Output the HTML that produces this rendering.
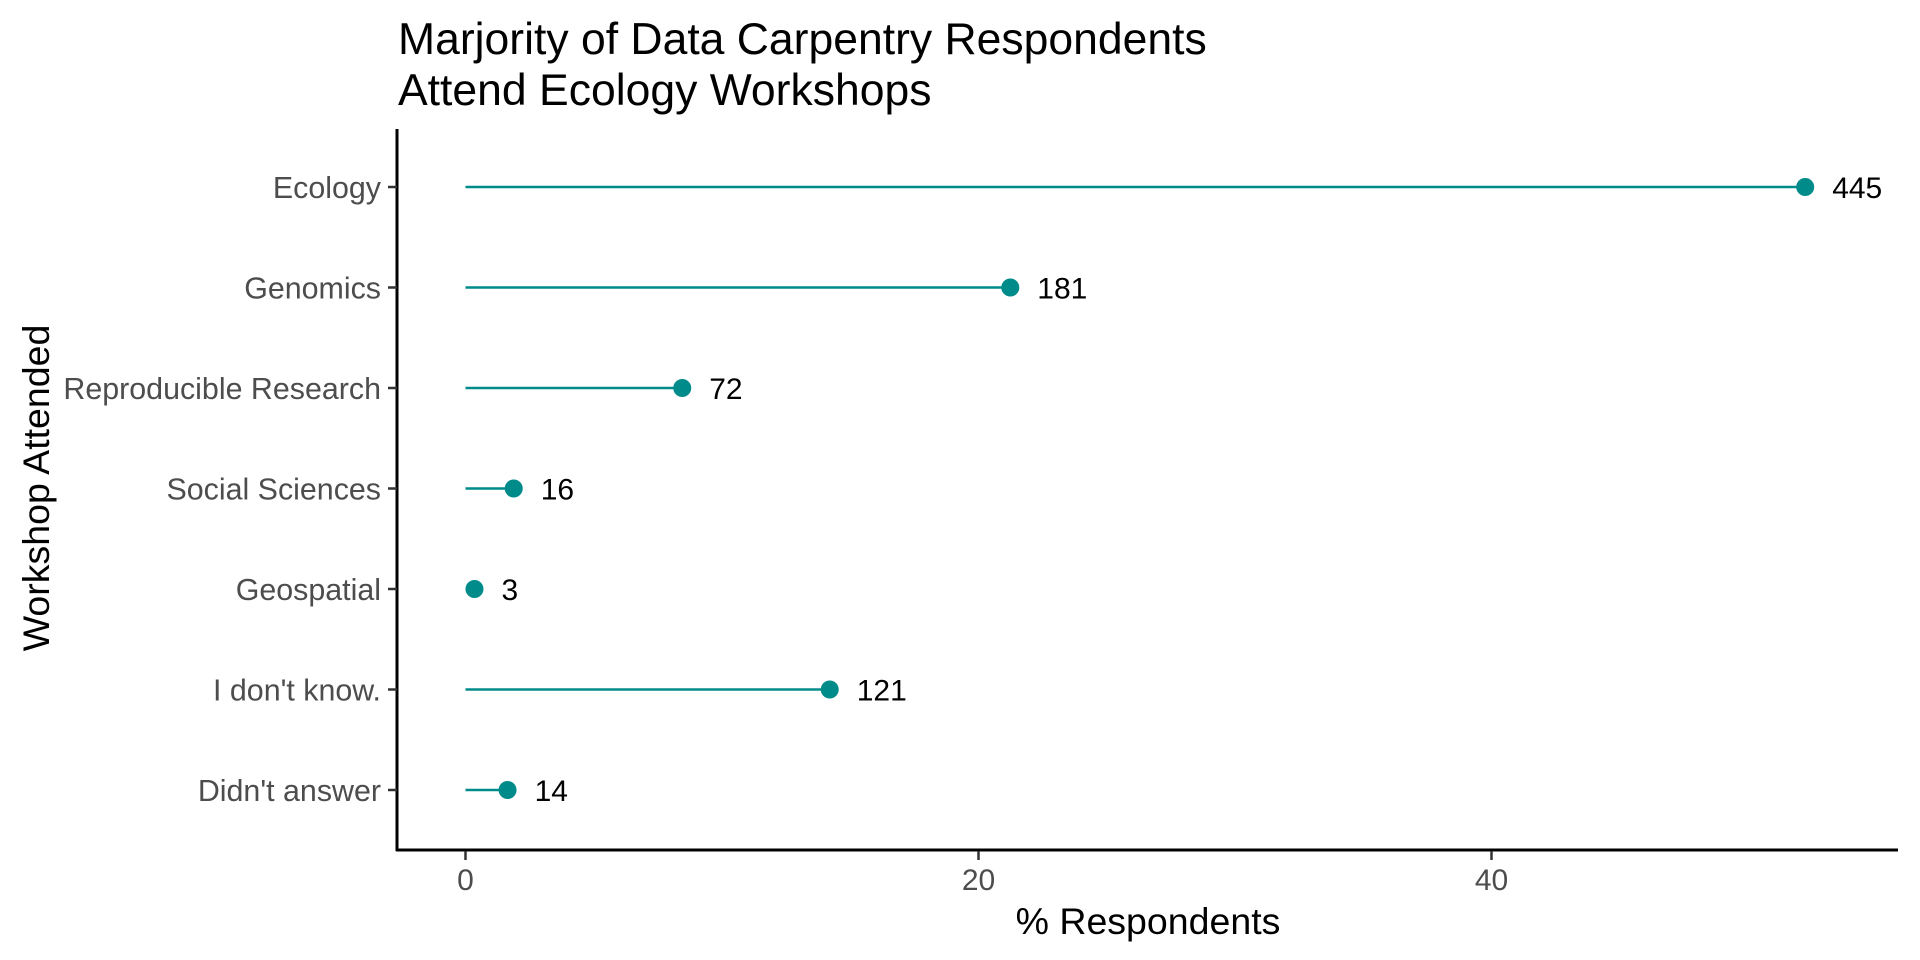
<!DOCTYPE html>
<html><head><meta charset="utf-8"><style>
html,body{margin:0;padding:0;background:#fff;}
svg{display:block;font-family:"Liberation Sans",Arial,sans-serif;}
</style></head><body>
<svg id="chart" width="1920" height="960" viewBox="0 0 1920 960">
  <g>
    <text x="398" y="54" font-size="44.5" fill="#000">Marjority of Data Carpentry Respondents</text>
    <text x="398" y="105" font-size="44.5" fill="#000">Attend Ecology Workshops</text>
  </g>
  <g id="plot"></g>
  <text x="0" y="0" font-size="37.5" fill="#000" text-anchor="middle" transform="translate(49,488) rotate(-90)">Workshop Attended</text>
  <text x="1148" y="934" font-size="37.5" fill="#000" text-anchor="middle">% Respondents</text>
</svg>
<script>
const categories = ["Ecology","Genomics","Reproducible Research","Social Sciences","Geospatial","I don't know.","Didn't answer"];
const counts = [445,181,72,16,3,121,14];
const percents = [52.23,21.24,8.45,1.88,0.35,14.20,1.64];
const xTicks = [0,20,40];

const X0 = 465.5, PX_PER = 25.65;
const xScale = v => X0 + v * PX_PER;
const ROW0 = 187, ROW_STEP = 100.5;
const yScale = i => ROW0 + i * ROW_STEP;
const NS = "http://www.w3.org/2000/svg";
const plot = document.getElementById('plot');
function mk(tag, attrs){ const e=document.createElementNS(NS,tag); for(const k in attrs) e.setAttribute(k,attrs[k]); plot.appendChild(e); return e; }

const yAxis = mk('line',{x1:397,y1:129,x2:397,y2:851,stroke:'#000','stroke-width':3});


const xAxis = mk('line',{x1:396,y1:850,x2:1898,y2:850,stroke:'#000','stroke-width':3});



xTicks.forEach(t=>{
  const x = xScale(t);
  const tk = mk('line',{x1:x,y1:851,x2:x,y2:860,stroke:'#333','stroke-width':2.5});
  
  
  const lb = mk('text',{x:x,y:890,'font-size':30,fill:'#4d4d4d','text-anchor':'middle'});
  lb.textContent = t;
  
  
});

categories.forEach((c,i)=>{
  const y = yScale(i);
  const tk = mk('line',{x1:388,y1:y,x2:397,y2:y,stroke:'#333','stroke-width':2.5});
  
  
  const lb = mk('text',{x:381,y:y+11,'font-size':30.4,fill:'#4d4d4d','text-anchor':'end'});
  lb.textContent = c;
  
  

  const seg = mk('line',{x1:xScale(0),y1:y,x2:xScale(percents[i]),y2:y,stroke:'#008B8B','stroke-width':2.5});
  
  
  const pt = mk('circle',{cx:xScale(percents[i]),cy:y,r:9,fill:'#008B8B'});
  
  
  const vl = mk('text',{x:xScale(percents[i])+27,y:y+11,'font-size':30,fill:'#000'});
  vl.textContent = counts[i];
  
  
});
</script>
</body></html>
